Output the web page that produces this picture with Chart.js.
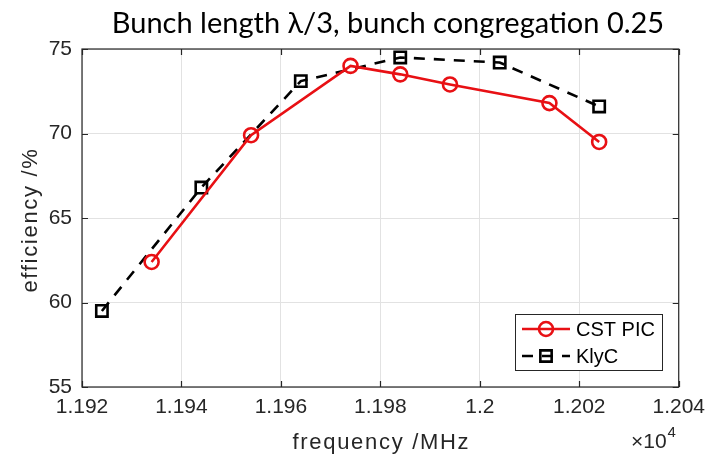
<!DOCTYPE html>
<html>
<head>
<meta charset="utf-8">
<script src="https://cdn.jsdelivr.net/npm/chart.js@4/dist/chart.umd.min.js"></script>
<style>
  html, body { margin: 0; padding: 0; background: #fff; }
  #wrap { width: 713px; height: 456px; }
</style>
</head>
<body>
<div id="wrap"><canvas id="c" width="713" height="456"></canvas></div>
<script>
// frequency in MHz, efficiency in %
const cstFreq = [11934, 11954, 11974, 11984, 11994, 12014, 12024];
const cstEff = [62.4, 69.9, 74.0, 73.5, 72.9, 71.8, 69.5];

const klycFreq = [11924, 11944, 11964, 11984, 12004, 12024];
const klycEff = [59.5, 66.8, 73.1, 74.5, 74.2, 71.6];

const xTickValues = [11920, 11940, 11960, 11980, 12000, 12020, 12040];
const xTickLabels = ["1.192", "1.194", "1.196", "1.198", "1.2", "1.202", "1.204"];
const yTickValues = [55, 60, 65, 70, 75];

const seriesNames = ["CST PIC", "KlyC"];
const titleText = "Bunch length \u03bb/3, bunch congregation 0.25";
const xTitle = "frequency /MHz";
const yTitle = "efficiency /%";

const RED = "rgb(232,16,20)";
const INK = "#262626";
const AXIS_FONT = "'Liberation Sans', Arial, sans-serif";

const toPts = (xs, ys) => xs.map((x, i) => ({ x, y: ys[i] }));

// MATLAB-ish frame: box, inward ticks, title, axis labels, exponent, legend
const frame = {
  id: "frame",
  beforeDatasetsDraw(chart) {
    const { ctx, chartArea: a, scales } = chart;
    ctx.save();
    ctx.strokeStyle = INK;
    ctx.lineWidth = 1.2;
    ctx.strokeRect(a.left, a.top, a.right - a.left, a.bottom - a.top);
    const tl = 6;
    ctx.beginPath();
    for (const v of xTickValues) {
      const px = Math.round(scales.x.getPixelForValue(v)) + 0.5;
      ctx.moveTo(px, a.bottom); ctx.lineTo(px, a.bottom - tl);
      ctx.moveTo(px, a.top); ctx.lineTo(px, a.top + tl);
    }
    for (const v of yTickValues) {
      const py = Math.round(scales.y.getPixelForValue(v)) + 0.5;
      ctx.moveTo(a.left, py); ctx.lineTo(a.left + tl, py);
      ctx.moveTo(a.right, py); ctx.lineTo(a.right - tl, py);
    }
    ctx.stroke();
    ctx.restore();
  },
  afterDraw(chart) {
    const { ctx, chartArea: a } = chart;
    ctx.save();

    // title
    ctx.fillStyle = "#000";
    ctx.font = "29px Lato, 'Open Sans', sans-serif";
    ctx.textAlign = "center";
    ctx.textBaseline = "alphabetic";
    ctx.fillText(titleText, 388, 33);

    // axis titles (slightly tracked out)
    ctx.fillStyle = INK;
    ctx.font = "22px " + AXIS_FONT;
    ctx.letterSpacing = "1.7px";
    ctx.fillText(xTitle, (a.left + a.right) / 2 + 1, 449);
    ctx.save();
    ctx.translate(31, (a.top + a.bottom) / 2 + 2);
    ctx.rotate(-Math.PI / 2);
    ctx.textBaseline = "middle";
    ctx.fillText(yTitle, 0, 0);
    ctx.restore();
    ctx.letterSpacing = "0px";

    // x10^4 exponent
    ctx.textAlign = "left";
    ctx.font = "21px " + AXIS_FONT;
    const base = "\u00d710";
    ctx.fillText(base, 631, 448);
    const w = ctx.measureText(base).width;
    ctx.font = "15px " + AXIS_FONT;
    ctx.fillText("4", 631 + w + 1, 437);

    // legend
    const bx = 515.5, by = 314.5, bw = 147, bh = 56;
    ctx.fillStyle = "#fff";
    ctx.fillRect(bx, by, bw, bh);
    ctx.strokeStyle = INK;
    ctx.lineWidth = 1;
    ctx.strokeRect(bx, by, bw, bh);

    const rows = [
      { y: 329, color: RED, dash: [], style: "circle", r: 7 },
      { y: 356, color: "#000", dash: [11, 9], style: "rect", r: 8 },
    ];
    rows.forEach((row, i) => {
      ctx.strokeStyle = row.color;
      ctx.lineWidth = 2.6;
      ctx.setLineDash(row.dash);
      ctx.beginPath();
      ctx.moveTo(522, row.y); ctx.lineTo(570, row.y);
      ctx.stroke();
      ctx.setLineDash([]);
      ctx.fillStyle = "rgba(0,0,0,0)";
      Chart.helpers.drawPoint(ctx, { pointStyle: row.style, radius: row.r, borderWidth: 2.6 }, 546, row.y);
      ctx.fillStyle = "#000";
      ctx.font = "20px " + AXIS_FONT;
      ctx.textBaseline = "middle";
      ctx.fillText(seriesNames[i], 576, row.y + 1);
    });
    ctx.restore();
  },
};

new Chart(document.getElementById("c"), {
  type: "line",
  data: {
    datasets: [
      {
        label: seriesNames[0],
        data: toPts(cstFreq, cstEff),
        borderColor: RED,
        backgroundColor: "transparent",
        borderWidth: 2.6,
        pointStyle: "circle",
        pointRadius: 7,
        pointBorderWidth: 2.6,
        pointBorderColor: RED,
        pointBackgroundColor: "transparent",
        tension: 0,
      },
      {
        label: seriesNames[1],
        data: toPts(klycFreq, klycEff),
        borderColor: "#000",
        backgroundColor: "transparent",
        borderWidth: 2.6,
        borderDash: [11, 9],
        pointStyle: "rect",
        pointRadius: 8,
        pointBorderWidth: 2.6,
        pointBorderColor: "#000",
        pointBackgroundColor: "transparent",
        tension: 0,
      },
    ],
  },
  options: {
    responsive: false,
    animation: false,
    layout: { padding: { left: 0, right: 30, top: 49, bottom: 0 } },
    plugins: {
      legend: { display: false },
      tooltip: { enabled: false },
      title: { display: false },
    },
    scales: {
      x: {
        type: "linear",
        min: 11920,
        max: 12040,
        afterFit: (s) => { s.height = 69; },
        afterBuildTicks: (s) => { s.ticks = xTickValues.map((v) => ({ value: v })); },
        ticks: {
          color: INK,
          font: { family: AXIS_FONT, size: 21 },
          padding: 8,
          maxRotation: 0,
          autoSkip: false,
          callback: (v) => xTickLabels[xTickValues.indexOf(v)],
        },
        grid: { color: "#e2e2e2", lineWidth: 1, drawTicks: false },
        border: { display: false },
      },
      y: {
        type: "linear",
        min: 55,
        max: 75,
        afterFit: (s) => { s.width = 82; },
        afterBuildTicks: (s) => { s.ticks = yTickValues.map((v) => ({ value: v })); },
        ticks: {
          color: INK,
          font: { family: AXIS_FONT, size: 21 },
          padding: 10,
        },
        grid: { color: "#e2e2e2", lineWidth: 1, drawTicks: false },
        border: { display: false },
      },
    },
  },
  plugins: [frame],
});
</script>
</body>
</html>
